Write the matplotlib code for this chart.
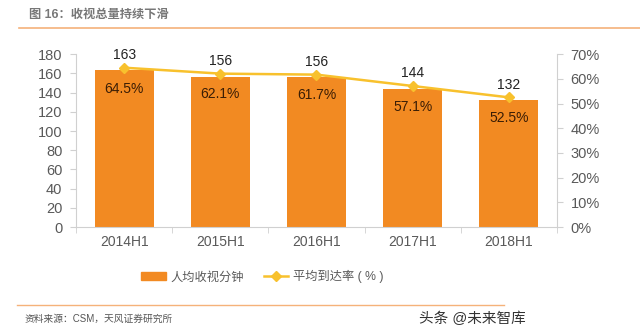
import numpy as np
import matplotlib.pyplot as plt
from matplotlib.lines import Line2D

plt.rcParams['font.family'] = ['Liberation Sans', 'Noto Sans CJK SC', 'DejaVu Sans']

#data
periods = ['2014H1', '2015H1', '2016H1', '2017H1', '2018H1']
minutes = [163, 156, 156, 144, 132]
reach = [64.5, 62.1, 61.7, 57.1, 52.5]

bar_color = '#F28A22'
line_color = '#F8C12D'
grey = '#595959'
spine_grey = '#D0D0D0'

fig = plt.figure(figsize=(6.4, 3.34), dpi=100)
ax = fig.add_axes([0.119, 0.320, 0.751, 0.518])
ax2 = ax.twinx()

x = np.arange(len(periods))
ax.bar(x, minutes, width=0.61, color=bar_color, zorder=2)
ax.set_xlim(-0.5, len(periods) - 0.5)
ax.set_ylim(0, 180)
ax.set_yticks(range(0, 181, 20))

ax2.plot(x, reach, color=line_color, lw=1.8, marker='D', ms=5, zorder=3)
ax2.set_ylim(0, 70)
ax2.set_yticks(range(0, 71, 10))
ax2.set_yticklabels([f'{v}%' for v in range(0, 71, 10)])

for xi, m, r in zip(x, minutes, reach):
    ax2.annotate(str(m), (xi, r), xytext=(0, 9), textcoords='offset points',
                 ha='center', va='center', fontsize=10, color='#222222')
    ax2.annotate(f'{r}%', (xi, r), xytext=(0, -15), textcoords='offset points',
                 ha='center', va='center', fontsize=10, color='#3a1d05')

ax.set_xticks(x)
ax.set_xticklabels(periods)
ax.set_xticks(np.arange(-0.5, len(periods), 1), minor=True)
ax.tick_params(axis='x', which='major', length=0, labelsize=10, colors=grey, pad=6)
ax.tick_params(axis='x', which='minor', length=4, color=spine_grey)
ax.tick_params(axis='y', labelsize=10.5, colors=grey, length=4, color=spine_grey, pad=6)
ax2.tick_params(axis='y', labelsize=10.5, colors=grey, length=4, color=spine_grey, pad=6)

for a in (ax, ax2):
    a.spines['top'].set_visible(False)
    for s in ('left', 'right', 'bottom'):
        a.spines[s].set_color(spine_grey)
ax.spines['right'].set_visible(False)
ax2.spines['left'].set_visible(False)
ax2.spines['bottom'].set_visible(False)

#legend
handles = [plt.Rectangle((0, 0), 1, 1, color=bar_color),
           Line2D([0], [0], color=line_color, lw=1.8, marker='D', ms=5)]
fig.legend(handles, ['人均收视分钟', '平均到达率 ( % )'], loc='center',
           bbox_to_anchor=(0.41, 0.171), ncol=2, frameon=False, fontsize=8.8,
           handlelength=2.0, handletextpad=0.4, columnspacing=1.6, labelcolor=grey)

#title + source
fig.text(0.045, 0.955, '图 16：收视总量持续下滑', fontsize=8.8, fontweight='bold',
         color='#777777', va='center')
fig.add_artist(Line2D([0.03, 1.0], [0.915, 0.915], color='#F5B27A', lw=1.2))
fig.add_artist(Line2D([0.027, 0.787], [0.087, 0.087], color='#F5B27A', lw=1.0))
fig.text(0.038, 0.045, '资料来源：CSM，天风证券研究所', fontsize=7, color='#555555', va='center')
fig.text(0.655, 0.045, '头条 @未来智库', fontsize=10.5, color='#333333', va='center')

plt.savefig('out.png', dpi=100)
